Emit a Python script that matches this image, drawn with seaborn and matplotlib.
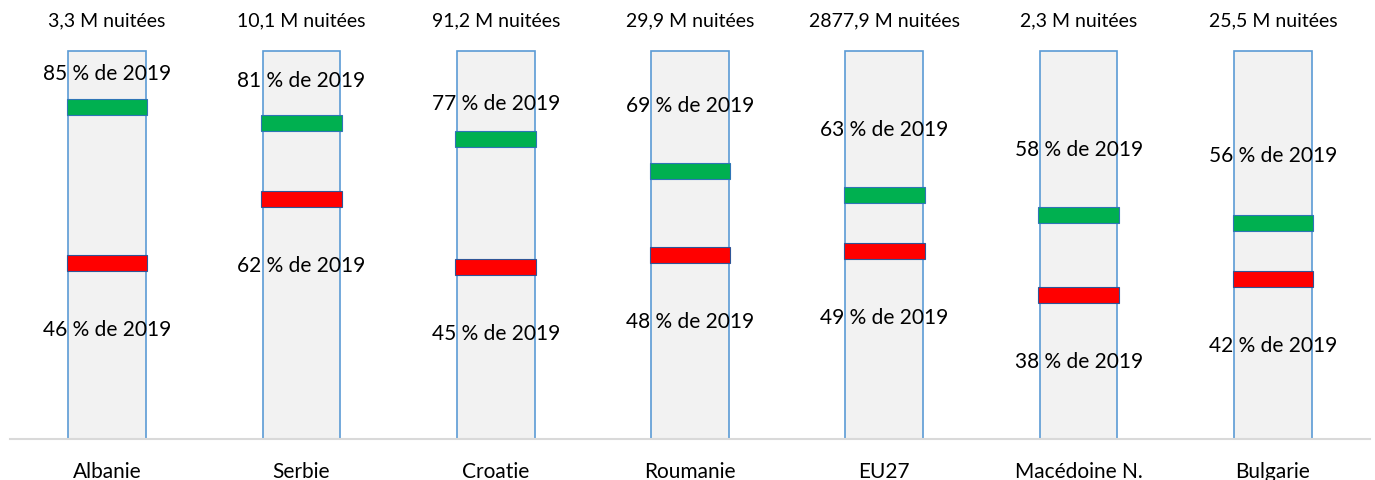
import matplotlib
matplotlib.use("Agg")
import matplotlib.pyplot as plt
import seaborn as sns
import pandas as pd

categories = ["Albanie", "Serbie", "Croatie", "Roumanie", "EU27", "Macédoine N.", "Bulgarie"]
nights_label = ["3,3 M nuitées", "10,1 M nuitées", "91,2 M nuitées", "29,9 M nuitées",
                "2877,9 M nuitées", "2,3 M nuitées", "25,5 M nuitées"]
green_pct = [85, 81, 77, 69, 63, 58, 56]
red_pct = [46, 62, 45, 48, 49, 38, 42]
background_level = [97, 97, 97, 97, 97, 97, 97]
green_label_offset = [6.5, 8.75, 7, 14.5, 14.5, 14.5, 15]
red_label_offset = -18.5
marker_thickness = 4

sns.set_theme(style="white")
plt.rcParams["font.family"] = ["Lato", "DejaVu Sans"]

df = pd.DataFrame({"cat": categories, "bg": background_level})

fig = plt.figure(figsize=(13.75, 4.81), dpi=100)
ax = fig.add_axes([10 / 1375, 41 / 481, 1360 / 1375, 440 / 481])

sns.barplot(data=df, x="cat", y="bg", ax=ax, color="#F2F2F2", width=0.4,
            edgecolor="#5B9BD5", linewidth=1.2, saturation=1)

ax.bar(categories, [marker_thickness] * len(categories),
       bottom=[v - marker_thickness for v in green_pct], width=0.415,
       color="#00B050", edgecolor="#2E75B6", linewidth=0.8, zorder=3)
ax.bar(categories, [marker_thickness] * len(categories),
       bottom=[v - marker_thickness for v in red_pct], width=0.415,
       color="#FF0000", edgecolor="#2F5597", linewidth=0.8, zorder=3)

fs = 15
for i, cat in enumerate(categories):
    ax.text(i, 104.8, nights_label[i], ha="center", va="center", fontsize=14, color="black")
    ax.text(i, green_pct[i] + green_label_offset[i], f"{green_pct[i]} % de 2019",
            ha="center", va="center", fontsize=fs, color="black", zorder=4)
    ax.text(i, red_pct[i] + red_label_offset, f"{red_pct[i]} % de 2019",
            ha="center", va="center", fontsize=fs, color="black", zorder=4)

ax.set_xlim(-0.5, 6.5)
ax.set_ylim(0, 110)
ax.set_xlabel("")
ax.set_ylabel("")
ax.set_yticks([])
ax.tick_params(axis="x", length=0, pad=16, labelsize=fs, colors="black")
for s in ["top", "right", "left"]:
    ax.spines[s].set_visible(False)
ax.spines["bottom"].set_color("#D9D9D9")
ax.spines["bottom"].set_linewidth(1.5)

fig.savefig("out.png", dpi=100)
